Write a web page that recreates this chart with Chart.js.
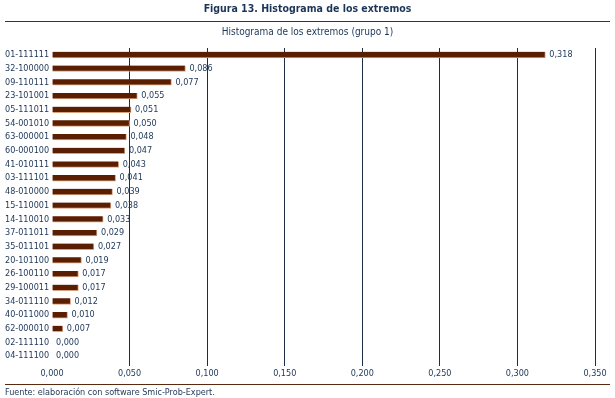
<!DOCTYPE html>
<html>
<head>
<meta charset="utf-8">
<script src="https://cdn.jsdelivr.net/npm/chart.js@4"></script>
<style>
  body { margin: 0; background: #fff; font-family: "DejaVu Sans Condensed", "DejaVu Sans", sans-serif; color: #1c3557; }
  #wrap { position: relative; width: 615px; height: 398px; overflow: hidden; }
  #myChart { position: absolute; left: 0; top: 0; }
  .title { position: absolute; top: 2px; left: 0; width: 615px; text-align: center; font-weight: bold; font-size: 10.5px; }
  .subtitle { position: absolute; top: 26px; left: 0; width: 615px; text-align: center; font-size: 10px; }
  .rule { position: absolute; left: 5px; width: 605px; height: 1px; background: #5a2a10; }
  .note { position: absolute; left: 5px; top: 387px; font-size: 9px; }
</style>
</head>
<body>
<div id="wrap">
  <canvas id="myChart" width="615" height="398"></canvas>
  <div class="title">Figura 13. Histograma de los extremos</div>
  <div class="rule" style="top:21px"></div>
  <div class="subtitle">Histograma de los extremos (grupo 1)</div>
  <div class="rule" style="top:384px"></div>
  <div class="note">Fuente: elaboración con software Smic-Prob-Expert.</div>
</div>
<script>
const ctx = document.getElementById('myChart').getContext('2d');
const navy = '#1c3557';
const labels = [
    '01-111111', '32-100000', '09-110111', '23-101001', '05-111011', '54-001010',
    '63-000001', '60-000100', '41-010111', '03-111101', '48-010000', '15-110001',
    '14-110010', '37-011011', '35-011101', '20-101100', '26-100110', '29-100011',
    '34-011110', '40-011000', '62-000010', '02-111110', '04-111100'
  ];
const values = [
    0.318, 0.086, 0.077, 0.055, 0.051, 0.050,
    0.048, 0.047, 0.043, 0.041, 0.039, 0.038,
    0.033, 0.029, 0.027, 0.019, 0.017, 0.017,
    0.012, 0.010, 0.007, 0.000, 0.000
  ];
const xMax = 0.35;
const xStep = 0.05;

const fmt = v => Number(v).toFixed(3).replace('.', ',');

// etiquetas de valor a la derecha de cada barra
const valueLabels = {
    id: 'valueLabels',
    afterDatasetsDraw(chart) {
        const c = chart.ctx;
        const meta = chart.getDatasetMeta(0);
        c.save();
        c.font = '9px "DejaVu Sans Condensed", "DejaVu Sans", sans-serif';
        c.fillStyle = navy;
        c.textBaseline = 'middle';
        c.textAlign = 'left';
        meta.data.forEach((bar, i) => {
            c.fillText(fmt(values[i]), bar.x + 4, bar.y);
        });
        c.restore();
    }
};

const data = {
    labels: labels,
    datasets: [{
        data: values,
        backgroundColor: '#5a1e02',
        borderColor: '#d9a27e',
        borderWidth: {top: 0, left: 0, right: 1, bottom: 1},
        borderSkipped: false,
        barThickness: 6
    }]
};

const config = {
    type: 'bar',
    data: data,
    plugins: [valueLabels],
    options: {
        indexAxis: 'y',
        responsive: false,
        animation: false,
        layout: { padding: { left: 5, right: 20, top: 48, bottom: 15 } },
        plugins: { legend: { display: false }, tooltip: { enabled: false } },
        scales: {
            x: {
                min: 0,
                max: xMax,
                afterFit: s => { s.height = 20; },
                border: { display: false },
                grid: {
                    color: c => c.tick && c.tick.value === 0 ? 'rgba(0,0,0,0)' : '#1b2e45',
                    lineWidth: 1,
                    tickLength: 3
                },
                ticks: {
                    stepSize: xStep,
                    color: navy,
                    padding: 2,
                    font: { family: '"DejaVu Sans Condensed", "DejaVu Sans", sans-serif', size: 9 },
                    callback: v => fmt(v)
                }
            },
            y: {
                afterFit: s => { s.width = 47; },
                border: { display: false },
                grid: { display: false },
                ticks: {
                    color: navy,
                    crossAlign: 'far',
                    autoSkip: false,
                    font: { family: '"DejaVu Sans Condensed", "DejaVu Sans", sans-serif', size: 9 }
                }
            }
        }
    }
};
const myChart = new Chart(ctx, config);
</script>
</body>
</html>
